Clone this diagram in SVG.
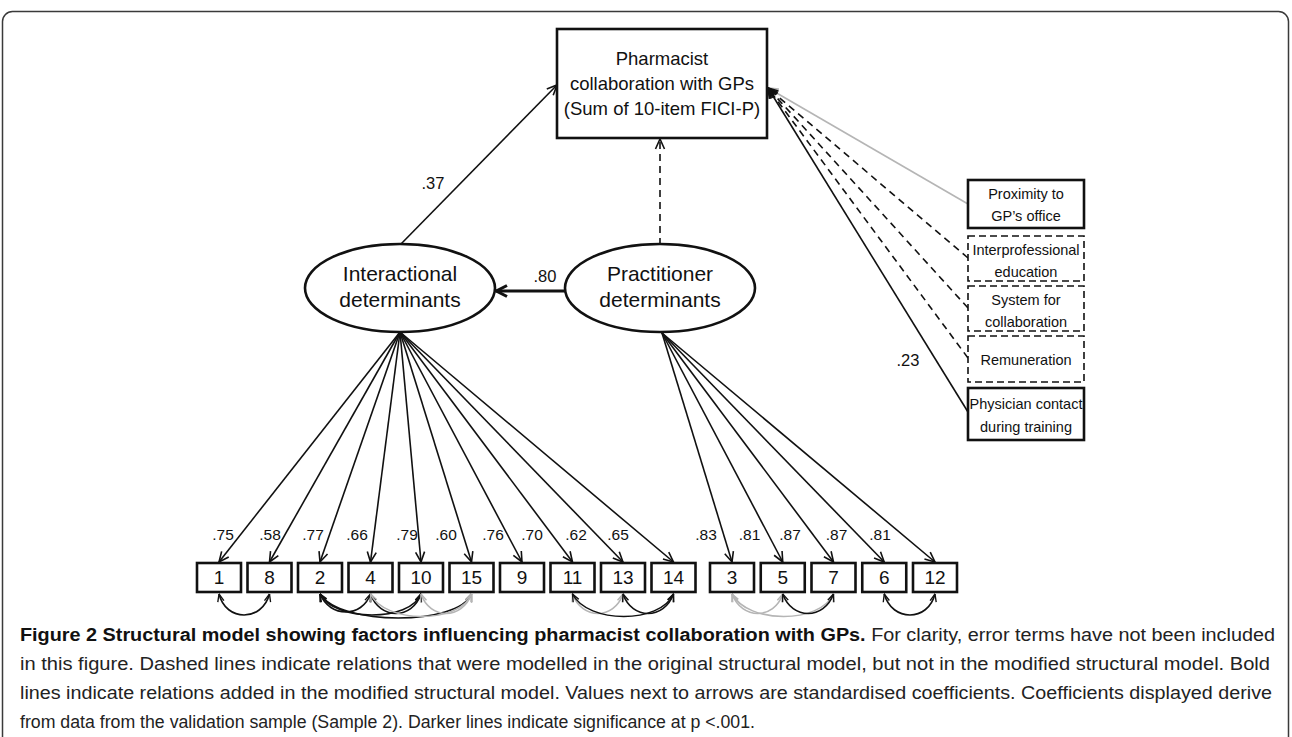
<svg xmlns="http://www.w3.org/2000/svg" width="1292" height="737" viewBox="0 0 1292 737">
<style>
text{font-family:"Liberation Sans",Arial,sans-serif;fill:#111}
.box{fill:#fff;stroke:#111;stroke-width:2.6}
.dbox{fill:#fff;stroke:#111;stroke-width:1.6;stroke-dasharray:7 4}
.ell{fill:#fff;stroke:#111;stroke-width:2.6}
.ln{fill:none;stroke:#111;stroke-width:1.6}
.dl{fill:none;stroke:#111;stroke-width:1.6;stroke-dasharray:7 5}
.gl{fill:none;stroke:#b5b5b5;stroke-width:1.6}
.cv{fill:none;stroke:#111;stroke-width:1.6}
.cg{fill:none;stroke:#b5b5b5;stroke-width:1.6}
.t18{font-size:18.5px;text-anchor:middle}
.t21{font-size:21px;text-anchor:middle}
.t15{font-size:14.5px;text-anchor:middle}
.num{font-size:19px;text-anchor:middle}
.lab{font-size:15.5px;text-anchor:middle}
.labl{font-size:16.5px;text-anchor:middle}
.cap{font-size:17.5px;fill:#222}
</style>
<defs>
<marker id="ah" viewBox="0 0 12 12" refX="11" refY="6" markerWidth="12" markerHeight="12" markerUnits="userSpaceOnUse" orient="auto-start-reverse"><path d="M1,1.5 L11,6 L1,10.5" fill="none" stroke="#111" stroke-width="1.6"/></marker>
<marker id="ahg" viewBox="0 0 12 12" refX="11" refY="6" markerWidth="12" markerHeight="12" markerUnits="userSpaceOnUse" orient="auto-start-reverse"><path d="M1,1.5 L11,6 L1,10.5" fill="none" stroke="#b5b5b5" stroke-width="1.6"/></marker>
<marker id="ahb" viewBox="0 0 14 14" refX="13" refY="7" markerWidth="14" markerHeight="14" markerUnits="userSpaceOnUse" orient="auto-start-reverse"><path d="M2,1.5 L12.5,7 L2,12.5" fill="none" stroke="#111" stroke-width="3"/></marker>
<marker id="as" viewBox="0 0 10 10" refX="9.5" refY="5" markerWidth="9" markerHeight="9" markerUnits="userSpaceOnUse" orient="auto-start-reverse"><path d="M1,1.5 L9.5,5 L1,8.5" fill="none" stroke="#111" stroke-width="1.5"/></marker>
<marker id="asg" viewBox="0 0 10 10" refX="9.5" refY="5" markerWidth="9" markerHeight="9" markerUnits="userSpaceOnUse" orient="auto-start-reverse"><path d="M1,1.5 L9.5,5 L1,8.5" fill="none" stroke="#b5b5b5" stroke-width="1.5"/></marker>
</defs>

<rect x="2.5" y="11.5" width="1286" height="745" rx="10" fill="none" stroke="#3a3a3a" stroke-width="1.5"/>

<g id="connectors">
  <line class="ln" x1="400" y1="245" x2="557" y2="85" marker-end="url(#ah)"/>
  <line class="dl" x1="660" y1="245" x2="660" y2="139" marker-end="url(#ah)"/>
  <line x1="565" y1="291" x2="496" y2="291" fill="none" stroke="#111" stroke-width="3" marker-end="url(#ahb)"/>
  <line class="gl" x1="968" y1="204" x2="768" y2="88" marker-end="url(#ahg)"/>
  <line class="dl" x1="968" y1="258" x2="768" y2="88" marker-end="url(#ah)"/>
  <line class="dl" x1="968" y1="308" x2="768" y2="88" marker-end="url(#ah)"/>
  <line class="dl" x1="968" y1="358" x2="768" y2="88" marker-end="url(#ah)"/>
  <line class="ln" x1="968" y1="412" x2="768" y2="88" stroke-width="1.8" marker-end="url(#ah)"/>
  <line class="ln" x1="400" y1="332" x2="219" y2="562" marker-end="url(#ah)"/>
  <line class="ln" x1="400" y1="332" x2="269.5" y2="562" marker-end="url(#ah)"/>
  <line class="ln" x1="400" y1="332" x2="320" y2="562" marker-end="url(#ah)"/>
  <line class="ln" x1="400" y1="332" x2="370.5" y2="562" marker-end="url(#ah)"/>
  <line class="ln" x1="400" y1="332" x2="421" y2="562" marker-end="url(#ah)"/>
  <line class="ln" x1="400" y1="332" x2="471.5" y2="562" marker-end="url(#ah)"/>
  <line class="ln" x1="400" y1="332" x2="522" y2="562" marker-end="url(#ah)"/>
  <line class="ln" x1="400" y1="332" x2="572.5" y2="562" marker-end="url(#ah)"/>
  <line class="ln" x1="400" y1="332" x2="623" y2="562" marker-end="url(#ah)"/>
  <line class="ln" x1="400" y1="332" x2="673.5" y2="562" marker-end="url(#ah)"/>
  <line class="ln" x1="662" y1="333" x2="732" y2="562" marker-end="url(#ah)"/>
  <line class="ln" x1="662" y1="333" x2="782.75" y2="562" marker-end="url(#ah)"/>
  <line class="ln" x1="662" y1="333" x2="833.5" y2="562" marker-end="url(#ah)"/>
  <line class="ln" x1="662" y1="333" x2="884.25" y2="562" marker-end="url(#ah)"/>
  <line class="ln" x1="662" y1="333" x2="935" y2="562" marker-end="url(#ah)"/>
  <path class="cv" d="M219,594 C226,622 262,622 269.5,594" marker-start="url(#as)" marker-end="url(#as)"/>
  <path class="cv" d="M320,594 C330,618 362,618 370.5,594" marker-start="url(#as)" marker-end="url(#as)"/>
  <path class="cv" d="M320,594 C335,622 410,622 421,594" marker-start="url(#as)" marker-end="url(#as)"/>
  <path class="cv" d="M320,594 C340,626 458,626 471.5,594" marker-start="url(#as)" marker-end="url(#as)"/>
  <path class="cv" d="M370.5,594 C380,620 412,620 421,594" marker-start="url(#as)" marker-end="url(#as)"/>
  <path class="cg" d="M370.5,594 C385,624 460,624 471.5,594" marker-start="url(#asg)" marker-end="url(#asg)"/>
  <path class="cg" d="M421,594 C430,620 462,620 471.5,594" marker-start="url(#asg)" marker-end="url(#asg)"/>
  <path class="cg" d="M572.5,594 C582,620 614,620 623,594" marker-start="url(#asg)" marker-end="url(#asg)"/>
  <path class="cv" d="M572.5,594 C588,624 660,624 673.5,594" marker-start="url(#as)" marker-end="url(#as)"/>
  <path class="cv" d="M623,594 C632,620 664,620 673.5,594" marker-start="url(#as)" marker-end="url(#as)"/>
  <path class="cg" d="M732,594 C742,620 774,620 782.75,594" marker-start="url(#asg)" marker-end="url(#asg)"/>
  <path class="cg" d="M732,594 C748,624 820,624 833.5,594" marker-start="url(#asg)" marker-end="url(#asg)"/>
  <path class="cv" d="M782.75,594 C792,620 824,620 833.5,594" marker-start="url(#as)" marker-end="url(#as)"/>
  <path class="cv" d="M884.25,594 C892,622 928,622 935,594" marker-start="url(#as)" marker-end="url(#as)"/>
</g>

<g id="labels">
  <text class="labl" x="433" y="189">.37</text>
  <text class="labl" x="545" y="282">.80</text>
  <text class="labl" x="908" y="366">.23</text>
  <text class="lab" x="223" y="540">.75</text>
  <text class="lab" x="270" y="540">.58</text>
  <text class="lab" x="313" y="540">.77</text>
  <text class="lab" x="357" y="540">.66</text>
  <text class="lab" x="407" y="540">.79</text>
  <text class="lab" x="446" y="540">.60</text>
  <text class="lab" x="493" y="540">.76</text>
  <text class="lab" x="532" y="540">.70</text>
  <text class="lab" x="576" y="540">.62</text>
  <text class="lab" x="618" y="540">.65</text>
  <text class="lab" x="706" y="540">.83</text>
  <text class="lab" x="749.5" y="540">.81</text>
  <text class="lab" x="790" y="540">.87</text>
  <text class="lab" x="836.5" y="540">.87</text>
  <text class="lab" x="880" y="540">.81</text>
</g>

<g id="outcome">
  <rect class="box" x="557" y="29" width="210" height="109"/>
  <text class="t18" x="662" y="65">Pharmacist</text>
  <text class="t18" x="662" y="90">collaboration with GPs</text>
  <text class="t18" x="662" y="115">(Sum of 10-item FICI-P)</text>
</g>

<g id="interactional">
  <ellipse class="ell" cx="400" cy="288" rx="95" ry="44"/>
  <text class="t21" x="400" y="281">Interactional</text>
  <text class="t21" x="400" y="307">determinants</text>
</g>
<g id="practitioner">
  <ellipse class="ell" cx="660" cy="288" rx="95" ry="44"/>
  <text class="t21" x="660" y="281">Practitioner</text>
  <text class="t21" x="660" y="307">determinants</text>
</g>

<g id="proximity">
  <rect class="box" x="968" y="180" width="116" height="48"/>
  <text class="t15" x="1026" y="199">Proximity to</text>
  <text class="t15" x="1026" y="221">GP’s office</text>
</g>
<g id="interprofessional">
  <rect class="dbox" x="968" y="236" width="116" height="45"/>
  <text class="t15" x="1026" y="255">Interprofessional</text>
  <text class="t15" x="1026" y="277">education</text>
</g>
<g id="system">
  <rect class="dbox" x="968" y="286" width="116" height="45"/>
  <text class="t15" x="1026" y="305">System for</text>
  <text class="t15" x="1026" y="327">collaboration</text>
</g>
<g id="remuneration">
  <rect class="dbox" x="968" y="336" width="116" height="46"/>
  <text class="t15" x="1026" y="365">Remuneration</text>
</g>
<g id="physician">
  <rect class="box" x="968" y="388" width="116" height="52" stroke-width="3.4"/>
  <text class="t15" x="1026" y="409">Physician contact</text>
  <text class="t15" x="1026" y="432">during training</text>
</g>

<g id="item-1"><rect class="box" x="197" y="563" width="44" height="29"/><text class="num" x="219" y="584">1</text></g>
<g id="item-8"><rect class="box" x="247.5" y="563" width="44" height="29"/><text class="num" x="269.5" y="584">8</text></g>
<g id="item-2"><rect class="box" x="298" y="563" width="44" height="29"/><text class="num" x="320" y="584">2</text></g>
<g id="item-4"><rect class="box" x="348.5" y="563" width="44" height="29"/><text class="num" x="370.5" y="584">4</text></g>
<g id="item-10"><rect class="box" x="399" y="563" width="44" height="29"/><text class="num" x="421" y="584">10</text></g>
<g id="item-15"><rect class="box" x="449.5" y="563" width="44" height="29"/><text class="num" x="471.5" y="584">15</text></g>
<g id="item-9"><rect class="box" x="500" y="563" width="44" height="29"/><text class="num" x="522" y="584">9</text></g>
<g id="item-11"><rect class="box" x="550.5" y="563" width="44" height="29"/><text class="num" x="572.5" y="584">11</text></g>
<g id="item-13"><rect class="box" x="601" y="563" width="44" height="29"/><text class="num" x="623" y="584">13</text></g>
<g id="item-14"><rect class="box" x="651.5" y="563" width="44" height="29"/><text class="num" x="673.5" y="584">14</text></g>
<g id="item-3"><rect class="box" x="710" y="563" width="44" height="29"/><text class="num" x="732" y="584">3</text></g>
<g id="item-5"><rect class="box" x="760.75" y="563" width="44" height="29"/><text class="num" x="782.75" y="584">5</text></g>
<g id="item-7"><rect class="box" x="811.5" y="563" width="44" height="29"/><text class="num" x="833.5" y="584">7</text></g>
<g id="item-6"><rect class="box" x="862.25" y="563" width="44" height="29"/><text class="num" x="884.25" y="584">6</text></g>
<g id="item-12"><rect class="box" x="913" y="563" width="44" height="29"/><text class="num" x="935" y="584">12</text></g>

<g id="caption">
  <text class="cap" x="20" y="641" textLength="1255" lengthAdjust="spacingAndGlyphs"><tspan font-weight="bold" fill="#111">Figure 2 Structural model showing factors influencing pharmacist collaboration with GPs.</tspan> For clarity, error terms have not been included</text>
  <text class="cap" x="20" y="670" textLength="1250" lengthAdjust="spacingAndGlyphs">in this figure. Dashed lines indicate relations that were modelled in the original structural model, but not in the modified structural model. Bold</text>
  <text class="cap" x="20" y="699" textLength="1252" lengthAdjust="spacingAndGlyphs">lines indicate relations added in the modified structural model. Values next to arrows are standardised coefficients. Coefficients displayed derive</text>
  <text class="cap" x="20" y="728" textLength="735" lengthAdjust="spacingAndGlyphs">from data from the validation sample (Sample 2). Darker lines indicate significance at p &lt;.001.</text>
</g>
</svg>
